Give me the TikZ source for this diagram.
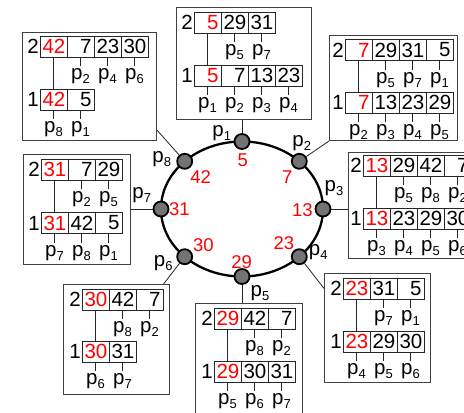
\documentclass[tikz,border=0pt]{standalone}
\usepackage{fontspec}
\setmainfont{Liberation Sans}
\usetikzlibrary{calc}
\newcommand\pl[1]{p\raisebox{-4pt}{\fontsize{13}{13}\selectfont #1}}
\def\nolab{-}
\tikzset{
  obox/.style={draw=black!75, line width=1pt, inner sep=0pt},
  cell/.style={draw=black!85, line width=0.9pt, minimum width=27pt, minimum height=21pt,
    inner sep=0pt, text width=22pt, align=right, font=\fontsize{20.5}{20.5}\selectfont},
  lvl/.style={inner sep=0pt, font=\fontsize{20.5}{20.5}\selectfont},
  plab/.style={inner xsep=0pt, inner ysep=2pt, font=\fontsize{20.5}{20.5}\selectfont},
  tick/.style={line width=0.8pt, black!85},
  link/.style={line width=0.8pt, black!85},
  ringnode/.style={circle, draw=black, fill=black!55, line width=1.8pt, minimum size=15pt, inner sep=0pt},
  ringval/.style={inner sep=0pt, text=red, font=\fontsize{18.5}{18.5}\selectfont},
}
% prefix, level, x, y, values, p labels
\newcommand\brow[6]{%
  \node[lvl, anchor=east] (#1l) at ({#3-1},{#4+10.5}) {#2};
  \foreach \v [count=\i] in {#5} {
    \node[cell] (#1c\i) at ({#3+27*\i-13.5},{#4+10.5}) {\ifnum\i=1 \color{red}\fi\v};
  }
  \foreach \lab [count=\i] in {#6} {
    \ifx\lab\nolab\else
      \node[plab, anchor=north] (#1p\i) at ([yshift=-9pt]#1c\i.south) {\pl{\lab}};
      \draw[tick] (#1c\i.south) -- (#1p\i.north);
    \fi
  }
}
\newcommand\twolevel[9]{% name, x2, y2, vals2, labs2, x1, y1, vals1, labs1
  \brow{#1b}{2}{#2}{#3}{#4}{#5}
  \brow{#1a}{1}{#6}{#7}{#8}{#9}
  \draw[link] (#1bc1.south) -- (#1ac1.north);
}
\begin{document}
\begin{tikzpicture}[x=1pt,y=-1pt]
\useasboundingbox (0,0) rectangle (464,413);
\fill[white] (0,0) rectangle (464,413);
\clip (0,0) rectangle (464,413);

% outer boxes
\node[obox, anchor=north west, minimum width=134pt, minimum height=108pt] (b8) at (22,32) {};
\node[obox, anchor=north west, minimum width=135pt, minimum height=112pt] (b1) at (176,7) {};
\node[obox, anchor=north west, minimum width=128pt, minimum height=105pt] (b2) at (329,35) {};
\node[obox, anchor=north west, minimum width=150pt, minimum height=106pt] (b3) at (348,152) {};
\node[obox, anchor=north west, minimum width=107pt, minimum height=110pt] (b7) at (23,154) {};
\node[obox, anchor=north west, minimum width=106pt, minimum height=110pt] (b6) at (63,284) {};
\node[obox, anchor=north west, minimum width=107pt, minimum height=130pt] (b5) at (195,303) {};
\node[obox, anchor=north west, minimum width=106pt, minimum height=109pt] (b4) at (324,273) {};

% box contents
\twolevel{e}{40}{36}{42,7,23,30}{-,2,4,6}{40}{89}{42,5}{8,1}
\twolevel{f}{194}{12}{5,29,31}{-,5,7}{194}{65}{5,7,13,23}{1,2,3,4}
\twolevel{g}{345}{39.5}{7,29,31,5}{-,5,7,1}{345}{92}{7,13,23,29}{2,3,4,5}
\twolevel{h}{363}{155}{13,29,42,7}{-,5,8,2}{363}{208}{13,23,29,30}{3,4,5,6}
\twolevel{k}{41}{159}{31,7,29}{-,2,5}{41}{212.5}{31,42,5}{7,8,1}
\twolevel{m}{82}{289}{30,42,7}{-,8,2}{82}{341}{30,31}{6,7}
\twolevel{n}{214}{308}{29,42,7}{-,8,2}{214}{361}{29,30,31}{5,6,7}
\twolevel{q}{343}{278}{23,31,5}{-,7,1}{343}{331}{23,29,30}{4,5,6}

% ring
\draw[line width=2.3pt] (242,209) ellipse [x radius=81pt, y radius=67.5pt];
\node[ringnode] (r1) at (242,141.5) {};
\node[ringnode] (r2) at (299.3,161.3) {};
\node[ringnode] (r3) at (323,209) {};
\node[ringnode] (r4) at (299.3,256.7) {};
\node[ringnode] (r5) at (242,276.5) {};
\node[ringnode] (r6) at (184.7,256.7) {};
\node[ringnode] (r7) at (161,209) {};
\node[ringnode] (r8) at (184.7,161.3) {};

% connectors
\draw[link] (r1) -- (r1 |- b1.south);
\draw[link] (r2) -- (b2.south west);
\draw[link] (r3) -- (r3 -| b3.west);
\draw[link] (r4) -- ($(b4.north west)!0.14!(b4.south west)$);
\draw[link] (r5) -- (r5 |- b5.north);
\draw[link] (r6) -- ($(b6.north east)!0.06!(b6.north west)$);
\draw[link] (r7) -- (r7 -| b7.east);
\draw[link] (r8) -- ($(b8.south east)!0.1!(b8.north east)$);

% ring labels
\node[plab] (l1) at (221.7,133.3) {\pl{1}};
\node[plab] (l2) at (301.7,143.3) {\pl{2}};
\node[plab] (l3) at (334,188.3) {\pl{3}};
\node[plab] (l4) at (318.3,251.7) {\pl{4}};
\node[plab] (l5) at (260,292.7) {\pl{5}};
\node[plab] (l6) at (163.3,262.7) {\pl{6}};
\node[plab] (l7) at (141.7,195) {\pl{7}};
\node[plab] (l8) at (161.7,159.3) {\pl{8}};

\node[ringval] (v1) at (242.7,160) {5};
\node[ringval] (v2) at (287.3,176.7) {7};
\node[ringval] (v3) at (302.3,210) {13};
\node[ringval] (v4) at (284,242.7) {23};
\node[ringval] (v5) at (241.7,261.7) {29};
\node[ringval] (v6) at (203.3,245) {30};
\node[ringval] (v7) at (179.3,209) {31};
\node[ringval] (v8) at (200.7,176.7) {42};
\end{tikzpicture}
\end{document}
